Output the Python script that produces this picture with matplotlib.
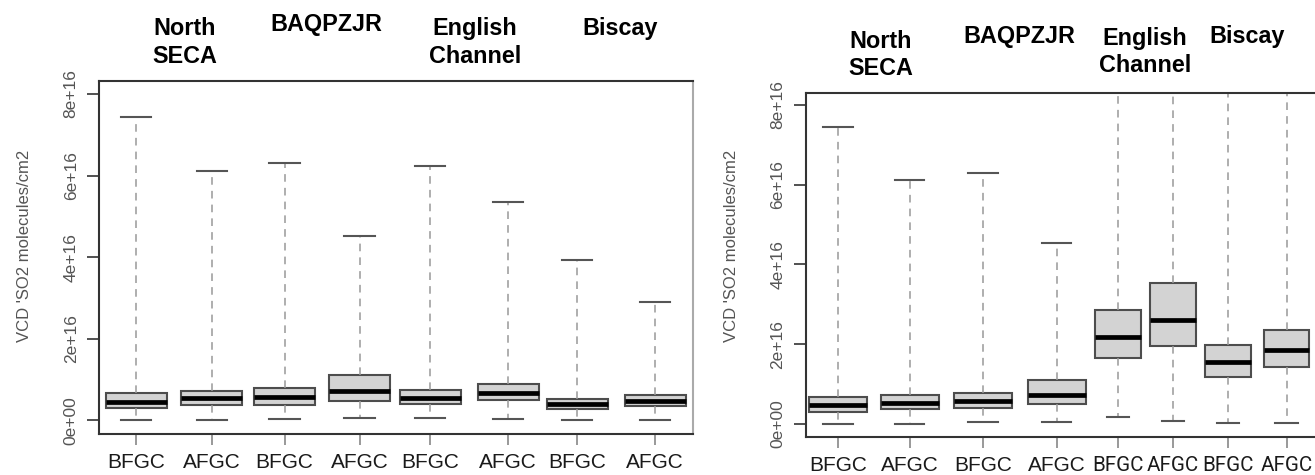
import numpy as np
import matplotlib
matplotlib.use("Agg")
from matplotlib import pyplot as plt

plt.rcParams['font.family'] = ['Liberation Sans', 'DejaVu Sans']

# box statistics, units of 1e16 molecules/cm2
labels = ['BFGC', 'AFGC', 'BFGC', 'AFGC', 'BFGC', 'AFGC', 'BFGC', 'AFGC']
yticks = [0, 2, 4, 6, 8]

# first period
a_lo = [0.00, 0.00, 0.04, 0.07, 0.05, 0.03, 0.01, 0.01]
a_q1 = [0.31, 0.37, 0.38, 0.48, 0.41, 0.49, 0.28, 0.35]
a_med = [0.46, 0.54, 0.57, 0.73, 0.56, 0.67, 0.40, 0.47]
a_q3 = [0.68, 0.72, 0.80, 1.11, 0.74, 0.90, 0.53, 0.62]
a_hi = [7.44, 6.11, 6.30, 4.53, 6.23, 5.36, 3.94, 2.91]

# second period
b_lo = [0.00, 0.00, 0.04, 0.06, 0.18, 0.08, 0.02, 0.03]
b_q1 = [0.30, 0.37, 0.39, 0.49, 1.65, 1.96, 1.19, 1.44]
b_med = [0.48, 0.53, 0.58, 0.73, 2.18, 2.62, 1.55, 1.85]
b_q3 = [0.67, 0.72, 0.78, 1.10, 2.87, 3.53, 1.99, 2.36]
b_hi = [7.45, 6.12, 6.30, 4.53, 9.00, 9.00, 9.00, 9.00]

W, H = 1315, 475
fig = plt.figure(figsize=(W / 100, H / 100), dpi=100)


def px_axes(x0, x1, y0, y1):
    # axes box given in pixels from the top-left corner
    return fig.add_axes([x0 / W, 1 - y1 / H, (x1 - x0) / W, (y1 - y0) / H])


def stats(lo, q1, med, q3, hi):
    out = []
    for i in range(len(med)):
        out.append(dict(whislo=lo[i] * 1e16, q1=q1[i] * 1e16, med=med[i] * 1e16,
                        q3=q3[i] * 1e16, whishi=hi[i] * 1e16, fliers=[]))
    return out


def draw(ax, st, pos, widths, xmax, ylim):
    ax.bxp(st, positions=pos, widths=widths, patch_artist=True, showfliers=False,
           boxprops=dict(facecolor='#d3d3d3', edgecolor='#4d4d4d', linewidth=1.5),
           medianprops=dict(color='black', linewidth=3.4, solid_capstyle='butt'),
           whiskerprops=dict(color='#999999', linewidth=1.1, linestyle=(0, (5, 4))),
           capprops=dict(color='#555555', linewidth=1.5))
    ax.set_xlim(0.5, xmax)
    ax.set_ylim(*ylim)
    ax.set_yticks([v * 1e16 for v in yticks])
    ax.set_yticklabels([f'{v * 1e16:.0e}' for v in yticks], rotation=90, va='center',
                       fontsize=12.5, color='#555555')
    ax.tick_params(axis='y', length=8.6, width=1.2, color='#333333', pad=6)
    ax.set_xticks(pos)
    ax.set_xticklabels(labels, fontsize=15, color='#1a1a1a')
    ax.tick_params(axis='x', length=8, width=1.2, color='#888888', pad=6)
    for s in ['left', 'bottom', 'top']:
        ax.spines[s].set_color('#333333')
        ax.spines[s].set_linewidth(1.5)


# left panel
ax1 = px_axes(99, 693, 81, 433.5)
pos1 = [1.0, 2.02, 3.0, 4.01, 4.96, 6.01, 6.94, 7.99]
draw(ax1, stats(a_lo, a_q1, a_med, a_q3, a_hi), pos1, [0.82] * 8, 8.5, (-0.32e16, 8.32e16))
ax1.spines['right'].set_color('#aaaaaa')
ax1.spines['right'].set_linewidth(1.5)

# right panel (runs off the right edge)
ax2 = px_axes(805.7, W, 93, 437)
pos2 = [0.942, 1.925, 2.93, 3.94, 4.778, 5.53, 6.285, 7.09]
wid2 = [0.8, 0.8, 0.8, 0.8, 0.62, 0.62, 0.62, 0.62]
draw(ax2, stats(b_lo, b_q1, b_med, b_q3, b_hi), pos2, wid2, (W - 805.7) / 73 + 0.5, (-0.326e16, 8.30e16))
ax2.spines['right'].set_visible(False)
# the squeezed groups on the right get a tighter face
for t in ax2.get_xticklabels()[4:]:
    t.set_family(['Roboto', 'Liberation Sans'])
    t.set_fontsize(14.8)

# y axis titles
for x in [24.5, 732]:
    fig.text(x / W, 1 - 246 / H, "VCD 'SO2 molecules/cm2", rotation=90, ha='center', va='center',
             fontsize=12, color='#555555')

# region names above the boxes (text, centre x, baseline y)
heads = [('North', 185, 35), ('SECA', 185, 63), ('BAQPZJR', 326, 31.5),
         ('English', 475, 35), ('Channel', 475, 63), ('Biscay', 620, 35),
         ('North', 881, 48), ('SECA', 881, 75), ('BAQPZJR', 1019, 43),
         ('English', 1145, 45), ('Channel', 1145, 72), ('Biscay', 1247, 43)]
for txt, x, y in heads:
    fig.text(x / W, 1 - y / H, txt, ha='center', va='baseline', fontsize=16.8,
             fontweight='bold', color='black')

fig.savefig('out.png', dpi=100)
